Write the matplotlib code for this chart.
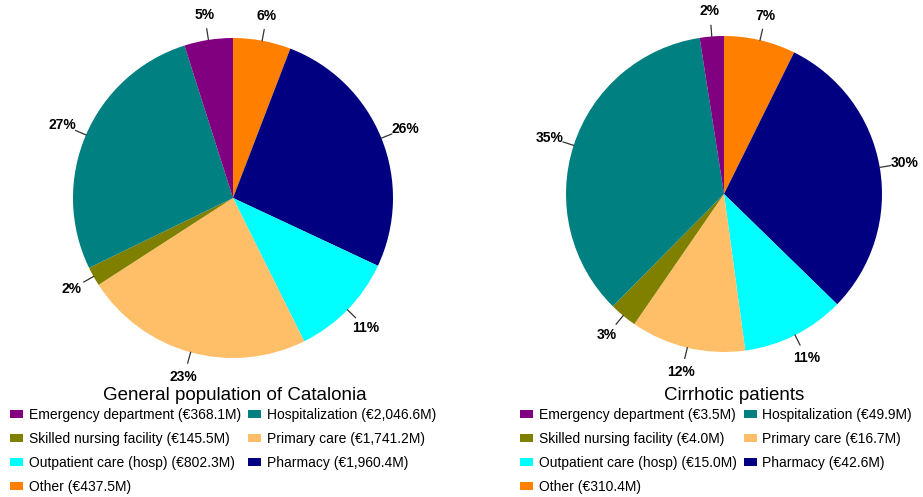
import matplotlib.pyplot as plt
from matplotlib.patches import Patch
import numpy as np

plt.rcParams['font.family'] = ['Liberation Sans', 'DejaVu Sans']

# categories in legend order (row by row)
categories = ['Emergency department', 'Hospitalization', 'Skilled nursing facility',
              'Primary care', 'Outpatient care (hosp)', 'Pharmacy', 'Other']
colors = ['#800080', '#008080', '#808000', '#FFBF69', '#00FFFF', '#000080', '#FF8000']

# costs in million euro
general_costs = [368.1, 2046.6, 145.5, 1741.2, 802.3, 1960.4, 437.5]
general_labels = ['€368.1M', '€2,046.6M', '€145.5M', '€1,741.2M', '€802.3M', '€1,960.4M', '€437.5M']

# "Other" is printed as €310.4M in the legend, but the slice is 7% -> 10.4
cirrhotic_costs = [3.5, 49.9, 4.0, 16.7, 15.0, 42.6, 10.4]
cirrhotic_labels = ['€3.5M', '€49.9M', '€4.0M', '€16.7M', '€15.0M', '€42.6M', '€310.4M']

titles = ['General population of Catalonia', 'Cirrhotic patients']

# slice order clockwise from 12 o'clock
pie_order = [6, 5, 4, 3, 2, 1, 0]

W, H = 923, 497
fig = plt.figure(figsize=(W / 100, H / 100), dpi=100)


def draw_pie(cx, cy, r, costs, euro_labels, title, title_x, legend_x):
    side = 2.5 * r
    ax = fig.add_axes([(cx - side / 2) / W, (H - cy - side / 2) / H, side / W, side / H])
    vals = [costs[i] for i in pie_order]
    cols = [colors[i] for i in pie_order]
    wedges, _ = ax.pie(vals, colors=cols, startangle=90, counterclock=False,
                       wedgeprops=dict(linewidth=0))
    ax.set_xlim(-1.25, 1.25)
    ax.set_ylim(-1.25, 1.25)
    total = sum(vals)
    for w, v in zip(wedges, vals):
        ang = np.deg2rad((w.theta1 + w.theta2) / 2)
        c, s = np.cos(ang), np.sin(ang)
        ax.plot([c * 1.0, c * 1.07], [s * 1.0, s * 1.07], color='#333333', lw=0.9)
        ax.text(c * 1.16, s * 1.16, f'{round(100 * v / total):.0f}%', ha='center', va='center',
                fontsize=10, fontweight='bold')

    fig.text(title_x / W, 1 - 396 / H, title, ha='center', va='center', fontsize=13.5)

    # legend filled column-wise -> reorder so it reads row by row
    handles = [Patch(facecolor=colors[i], edgecolor='none',
                     label=f'{categories[i]} ({euro_labels[i]})') for i in range(len(categories))]
    col_order = [0, 2, 4, 6, 1, 3, 5]
    fig.legend(handles=[handles[i] for i in col_order], ncol=2, loc='upper left',
               bbox_to_anchor=(legend_x / W, 1 - 408 / H), frameon=False,
               fontsize=10, handlelength=0.95, handleheight=0.55, handletextpad=0.4,
               columnspacing=0.5, labelspacing=0.72, borderpad=0, borderaxespad=0)


draw_pie(233, 198, 160, general_costs, general_labels, titles[0], 235, 10)
draw_pie(724, 194, 158, cirrhotic_costs, cirrhotic_labels, titles[1], 734, 520)

plt.savefig('out.png', dpi=100)
